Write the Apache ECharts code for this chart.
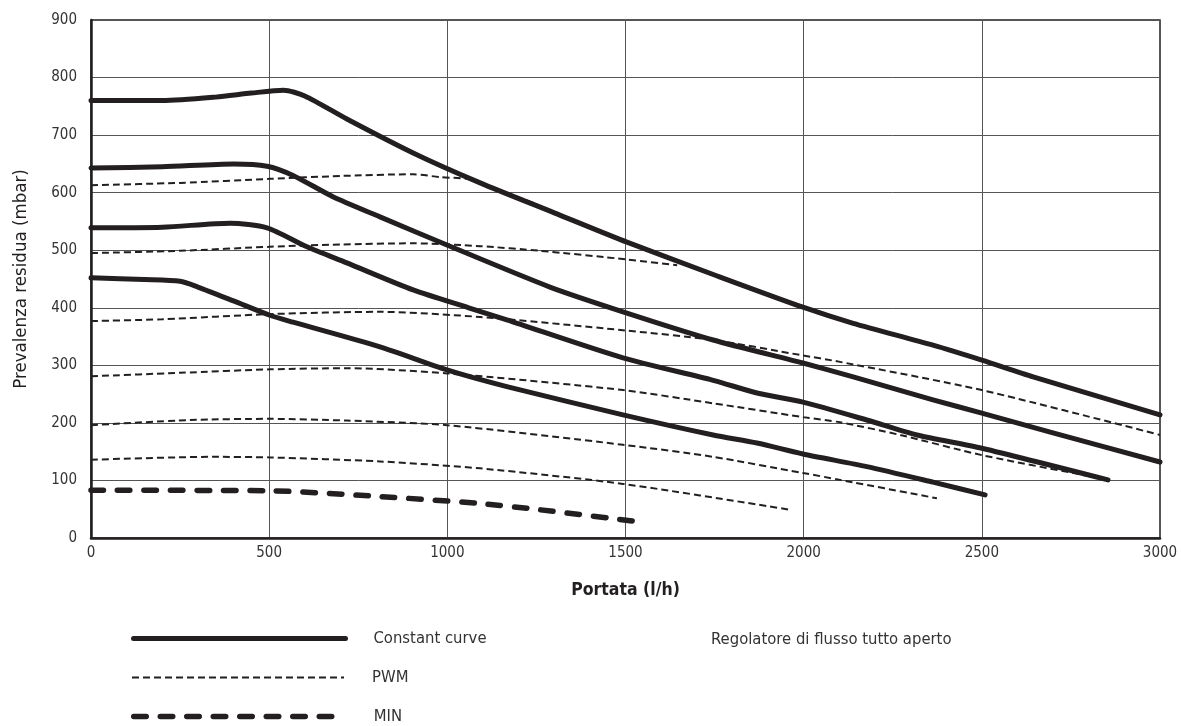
<!DOCTYPE html>
<html>
<head>
<meta charset="utf-8">
<script src="https://cdn.jsdelivr.net/npm/echarts@6/dist/echarts.min.js"></script>
<style>
html,body{margin:0;padding:0;background:#fff;}
#chart{width:1181px;height:726px;}
</style>
</head>
<body>
<div id="chart"></div>
<script>
// ---- data ----
const xTicks = [0, 500, 1000, 1500, 2000, 2500, 3000];
const yTicks = [0, 100, 200, 300, 400, 500, 600, 700, 800, 900];

const constant1 = [[0,760],[200,760],[350,766],[450,773],[540,778],[600,768],[718,728],[904,669],[1092,617],[1300,565],[1504,514],[1750,457],[1998,401],[2139,373],[2363,335],[2500,309],[2644,280],[3000,214]];
const constant2 = [[0,643],[200,645],[400,650],[494,646],[567,630],[679,593],[811,558],[999,509],[1288,436],[1493,393],[1746,344],[1998,304],[2139,280],[2363,240],[2500,217],[2692,184],[3000,132]];
const constant3 = [[0,539],[200,540],[390,547],[494,539],[606,506],[718,478],[904,431],[1060,400],[1167,379],[1493,313],[1746,274],[1869,252],[1998,236],[2177,205],[2318,179],[2500,156],[2854,101]];
const constant4 = [[0,452],[150,449],[250,446],[300,436],[400,412],[502,387],[567,375],[811,332],[999,292],[1167,263],[1493,214],[1746,179],[1869,165],[1998,146],[2177,124],[2363,97],[2509,75]];

const pwm1 = [[0,613],[250,617],[502,624],[700,629],[904,632],[980,627],[1064,623],[1148,604],[1250,580]];
const pwm2 = [[0,495],[250,499],[502,506],[700,510],[904,512],[1092,507],[1260,499],[1504,484],[1645,474]];
const pwm3 = [[0,377],[200,380],[502,389],[811,393],[1092,384],[1493,361],[1746,344],[1990,318],[2102,306],[2500,257],[3000,179]];
const pwm4 = [[0,281],[250,287],[502,293],[718,295],[1000,286],[1493,257],[1746,234],[1998,210],[2102,201],[2271,179],[2500,144],[2832,104]];
const pwm5 = [[0,196],[278,205],[502,207],[718,204],[999,196],[1493,162],[1746,141],[1998,113],[2102,101],[2374,69]];
const pwm6 = [[0,136],[342,141],[502,140],[811,133],[1092,121],[1493,94],[1962,49]];

const minCurve = [[0,83],[502,82],[811,72],[1092,60],[1260,49],[1541,28]];

const legendNames = ['Constant curve', 'PWM', 'MIN'];
const noteText = 'Regolatore di flusso tutto aperto';
const xName = 'Portata (l/h)';
const yName = 'Prevalenza residua (mbar)';

// ---- chart ----
const FONT = "'Liberation Sans Narrow', 'DejaVu Sans Condensed', 'Liberation Sans', Arial, sans-serif";
const INK = '#231f20';
const TXT = '#333';
const STYLE = {
  constant:{color:INK, width:5, type:'solid', cap:'round', join:'round'},
  pwm:{color:INK, width:2, type:[7,4]},
  min:{color:INK, width:5.5, type:[12.5,14], cap:'round'}
};
const STYLE_LIST = [STYLE.constant, STYLE.pwm, STYLE.min];
const LEGEND_TOPS = [630, 669, 708];

function mk(name, d, ls, z){
  return {name:name, type:'line', data:d, smooth:0.25, symbol:'none', showSymbol:false,
    lineStyle:ls, itemStyle:{color:INK}, z:z};
}

const legends = legendNames.map(function(n, i){
  return {
    data:[{name:n, itemStyle:{opacity:0}, lineStyle:STYLE_LIST[i]}],
    orient:'vertical', left:131, top:LEGEND_TOPS[i], padding:0,
    itemWidth:212, itemHeight:18,
    textStyle:{fontFamily:FONT, fontSize:16.5, color:TXT, padding:[0,0,0,23]},
    selectedMode:false
  };
});

const chart = echarts.init(document.getElementById('chart'), null, {renderer:'canvas'});
chart.setOption({
  animation:false,
  backgroundColor:'#fff',
  textStyle:{fontFamily:FONT},
  title:{text:noteText, left:706, top:626, textStyle:{fontFamily:FONT, fontSize:16.5, fontWeight:'normal', color:TXT}},
  legend:legends,
  grid:{left:91, right:21, top:20, bottom:188, show:true, borderColor:INK, borderWidth:1.5},
  xAxis:{
    type:'value', min:xTicks[0], max:xTicks[xTicks.length-1], interval:500,
    name:xName, nameLocation:'middle', nameGap:43,
    nameTextStyle:{fontFamily:FONT, fontSize:17.5, color:INK, fontWeight:'bold'},
    axisLine:{show:true, lineStyle:{color:INK, width:2.5}},
    axisTick:{show:false},
    axisLabel:{fontFamily:FONT, fontSize:15, color:TXT, margin:8, formatter:function(v){return String(v);}},
    splitLine:{show:true, lineStyle:{color:'#555', width:1}}
  },
  yAxis:{
    type:'value', min:yTicks[0], max:yTicks[yTicks.length-1], interval:100,
    name:yName, nameLocation:'middle', nameGap:60, nameRotate:90,
    nameTextStyle:{fontFamily:FONT, fontSize:18.5, color:INK},
    axisLine:{show:true, lineStyle:{color:INK, width:2.5}},
    axisTick:{show:false},
    axisLabel:{fontFamily:FONT, fontSize:15, color:TXT, margin:14, formatter:function(v){return String(v);}},
    splitLine:{show:true, lineStyle:{color:'#555', width:1}}
  },
  series:[
    mk(legendNames[0], constant1, STYLE.constant, 3),
    mk(legendNames[0], constant2, STYLE.constant, 3),
    mk(legendNames[0], constant3, STYLE.constant, 3),
    mk(legendNames[0], constant4, STYLE.constant, 3),
    mk(legendNames[1], pwm1, STYLE.pwm, 4),
    mk(legendNames[1], pwm2, STYLE.pwm, 4),
    mk(legendNames[1], pwm3, STYLE.pwm, 4),
    mk(legendNames[1], pwm4, STYLE.pwm, 4),
    mk(legendNames[1], pwm5, STYLE.pwm, 4),
    mk(legendNames[1], pwm6, STYLE.pwm, 4),
    mk(legendNames[2], minCurve, STYLE.min, 4)
  ]
});
</script>
</body>
</html>
